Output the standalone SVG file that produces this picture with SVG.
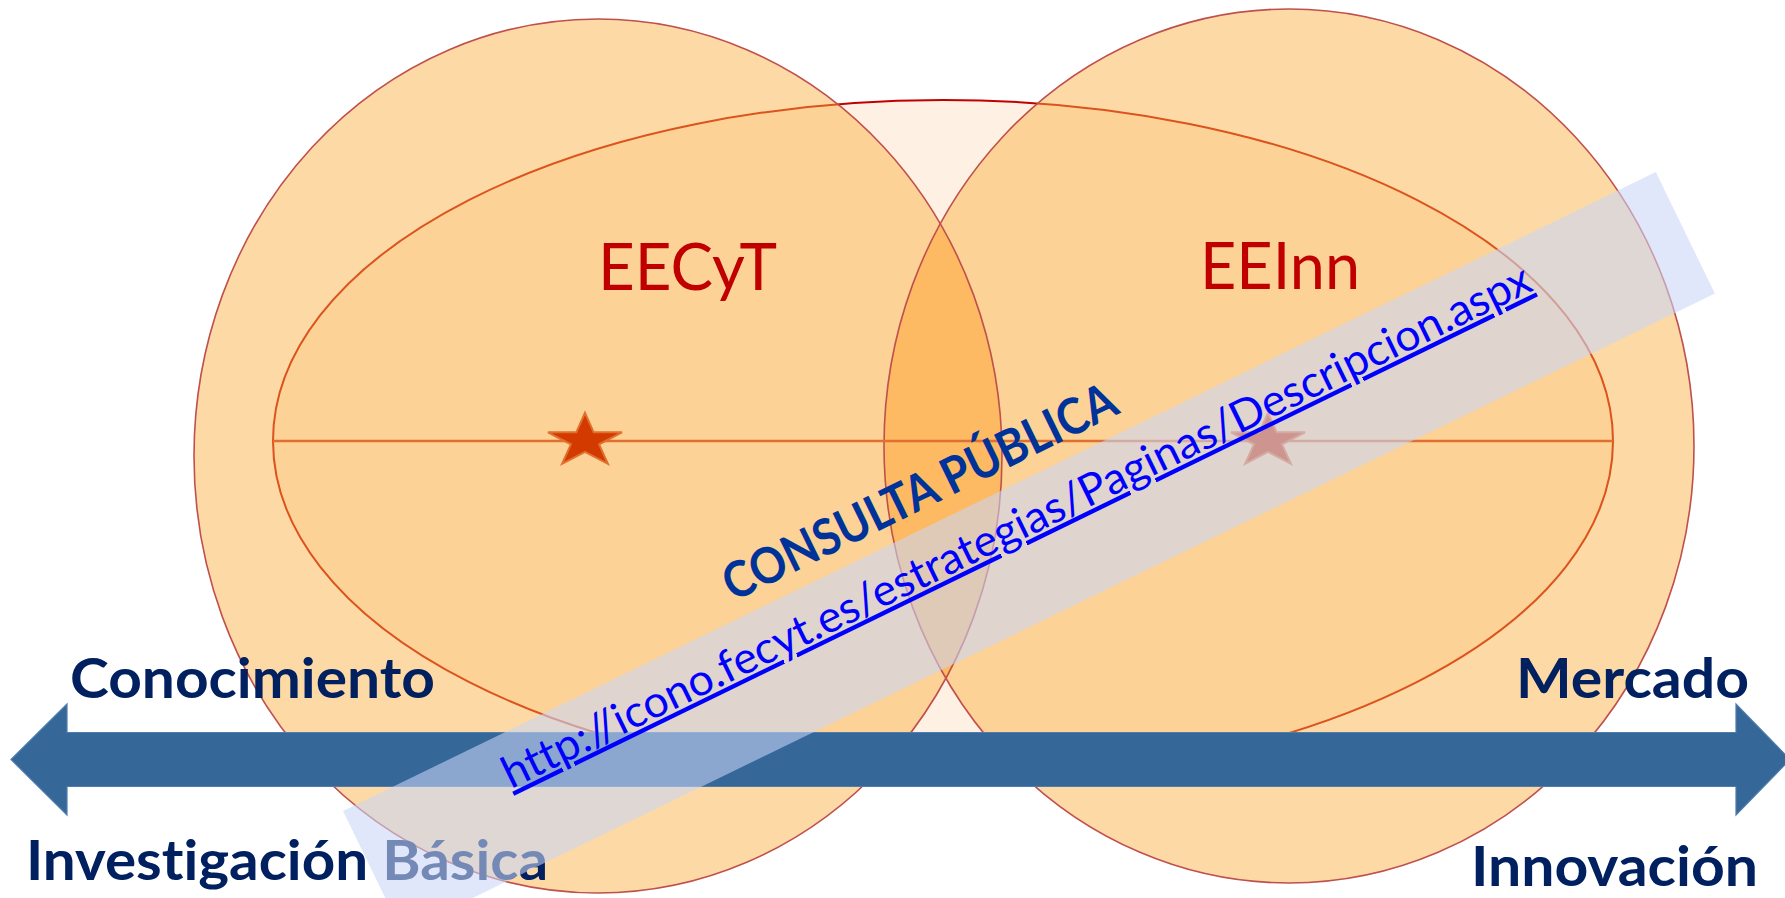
<svg xmlns="http://www.w3.org/2000/svg" width="1785" height="898" viewBox="0 0 1785 898">
  <style>
    text { font-variant-ligatures: none; font-feature-settings: "liga" 0, "clig" 0, "dlig" 0; }
    .circle { fill: #FBB040; fill-opacity: 0.47; stroke: none; }
    .outline { fill: none; stroke: #C0504D; stroke-width: 1.6; }
    .lbl { font-family: Lato, "Open Sans", "Liberation Sans", sans-serif; font-weight: bold; fill: #002060; font-size: 56px; }
    .title { font-family: Lato, "Open Sans", "Liberation Sans", sans-serif; fill: #C00000; font-size: 66px; }
    .star { fill: #D33A00; stroke: #E0702F; stroke-width: 2; stroke-linejoin: miter; }
  </style>
  <defs>
    <clipPath id="clipLeft">
      <ellipse cx="598" cy="456" rx="404" ry="437"/>
    </clipPath>
    <path id="starShape" d="M0,-28.2 L8.7,-8.7 L37,-8.7 L14.1,3.3 L22.9,22.8 L0,10.8 L-22.9,22.8 L-14.1,3.3 L-37,-8.7 L-8.7,-8.7 Z"/>
  </defs>
  <rect width="1785" height="898" fill="#FFFFFF"/>

  <g id="scope">
    <ellipse cx="943" cy="441" rx="670" ry="341" fill="#FEF0E2" stroke="#C00000" stroke-width="2"/>
  </g>

  <g id="eecyt">
    <ellipse class="circle" cx="598" cy="456" rx="404" ry="437"/>
  </g>
  <g id="eeinn">
    <ellipse class="circle" cx="1289" cy="446" rx="405" ry="437"/>
  </g>
  <g id="overlap">
    <ellipse cx="1289" cy="446" rx="405" ry="437" fill="#FDBA62" clip-path="url(#clipLeft)"/>
  </g>
  <g id="outlines">
    <ellipse class="outline" cx="598" cy="456" rx="404" ry="437"/>
    <ellipse class="outline" cx="1289" cy="446" rx="405" ry="437"/>
  </g>

  <g id="connectors">
    <line x1="273" y1="441" x2="1613" y2="441" stroke="#E07030" stroke-width="2.5"/>
    <polygon id="axis-arrow" points="11,759.5 67,704 67,732.5 1736,732.5 1736,704 1790,759.5 1736,815 1736,786.5 67,786.5 67,815" fill="#356899" stroke="#4E7CAD" stroke-width="1.2"/>
  </g>

  <g id="star-eecyt">
    <use href="#starShape" class="star" transform="translate(585,441)"/>
  </g>
  <g id="star-eeinn">
    <use href="#starShape" class="star" transform="translate(1268,441)"/>
  </g>

  <g id="labels">
    <text class="title" x="598" y="290" textLength="179" lengthAdjust="spacingAndGlyphs">EECyT</text>
    <text class="title" x="1200" y="289" textLength="160" lengthAdjust="spacingAndGlyphs">EEInn</text>
    <text class="lbl" x="70" y="698" textLength="365" lengthAdjust="spacingAndGlyphs">Conocimiento</text>
    <text class="lbl" x="1516" y="698" textLength="233" lengthAdjust="spacingAndGlyphs">Mercado</text>
    <text class="lbl" x="26" y="880" textLength="522" lengthAdjust="spacingAndGlyphs">Investigación Básica</text>
    <text class="lbl" x="1471" y="886" textLength="287" lengthAdjust="spacingAndGlyphs">Innovación</text>
  </g>

  <g id="band" transform="translate(343,811) rotate(-25.95)">
    <rect x="0" y="0" width="1460" height="135" fill="#CAD5F6" fill-opacity="0.58"/>
  </g>

  <g id="consulta">
    <text x="733" y="602" transform="rotate(-26 733 602)" font-family="Lato, 'Open Sans', 'Liberation Sans', sans-serif" font-weight="bold" font-size="50" fill="#003399" textLength="432" lengthAdjust="spacingAndGlyphs">CONSULTA PÚBLICA</text>
    <text x="511" y="789" transform="rotate(-26 511 789)" font-family="Lato, 'Open Sans', 'Liberation Sans', sans-serif" font-size="44" fill="#0000FF" text-decoration="underline" textLength="1139" lengthAdjust="spacingAndGlyphs">http://icono.fecyt.es/estrategias/Paginas/Descripcion.aspx</text>
  </g>
</svg>
